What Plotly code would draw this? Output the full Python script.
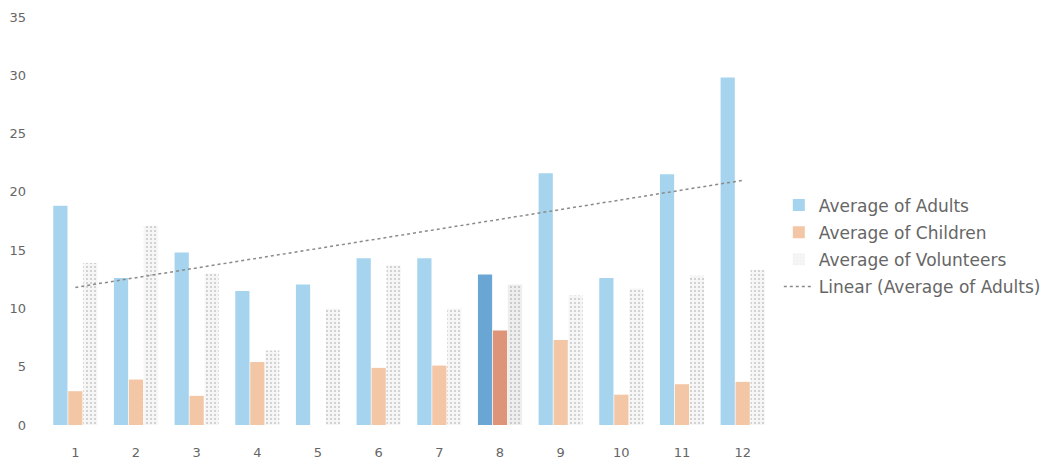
import numpy as np
import plotly.graph_objects as go

months = [1, 2, 3, 4, 5, 6, 7, 8, 9, 10, 11, 12]
adults = [18.8, 12.6, 14.8, 11.5, 12.05, 14.3, 14.3, 12.9, 21.6, 12.6, 21.5, 29.8]
children = [2.9, 3.9, 2.5, 5.4, 0.0, 4.9, 5.1, 8.1, 7.3, 2.6, 3.5, 3.7]
volunteers = [13.9, 17.1, 13.0, 6.4, 10.0, 13.7, 10.0, 12.05, 11.1, 11.7, 12.8, 13.3]
y_ticks = [0, 5, 10, 15, 20, 25, 30, 35]

# Excel-style linear trendline of adults
slope, intercept = np.polyfit(months, adults, 1)
trend = [slope * m + intercept for m in months]

adult_colors = ["#a6d4ee"] * 12
adult_colors[7] = "#6aa6d3"
child_colors = ["#f3c6a6"] * 12
child_colors[7] = "#de9479"
vol_colors = ["#f6f6f6"] * 12
vol_colors[7] = "#eeeeee"

fig = go.Figure()
fig.add_trace(go.Bar(x=months, y=adults, name="Average of Adults",
                     marker=dict(color=adult_colors, line=dict(width=0)),
                     legendgroup="a"))
fig.add_trace(go.Bar(x=months, y=children, name="Average of Children",
                     marker=dict(color=child_colors, line=dict(width=0)),
                     legendgroup="c"))
fig.add_trace(go.Bar(x=months, y=volunteers, name="Average of Volunteers",
                     marker=dict(color=vol_colors, line=dict(width=0),
                                 pattern=dict(shape=".", fgcolor="#d8d8d8",
                                              size=4, solidity=0.12)),
                     legendgroup="v"))
fig.add_trace(go.Scatter(x=months, y=trend, mode="lines",
                         name="Linear (Average of Adults)",
                         line=dict(color="#8a8a8a", width=1.5, dash="dot"),
                         legendgroup="t"))

fig.update_layout(
    width=1049, height=452,
    margin=dict(l=37, r=284, t=9, b=35),
    paper_bgcolor="white", plot_bgcolor="white",
    barmode="group", bargap=0.26, bargroupgap=0.05,
    font=dict(family="DejaVu Sans", color="#666666", size=13),
    showlegend=True,
    legend=dict(x=1.008, y=0.582, xanchor="left", yanchor="top",
                font=dict(size=17, color="#666666"),
                tracegroupgap=2, itemwidth=30,
                bgcolor="rgba(0,0,0,0)"),
    xaxis=dict(tickmode="array", tickvals=months,
               ticktext=[str(m) for m in months],
               range=[0.5, 12.5], showgrid=False, zeroline=False,
               showline=False, ticks="", ticklabelstandoff=18,
               automargin=False,
               tickfont=dict(size=13, color="#666666")),
    yaxis=dict(range=[0, 35], tickmode="array", tickvals=y_ticks,
               showgrid=False, zeroline=False, showline=False, ticks="",
               automargin=False,
               tickfont=dict(size=13, color="#666666"), ticklabelstandoff=18),
)

fig.write_html("out.html")
